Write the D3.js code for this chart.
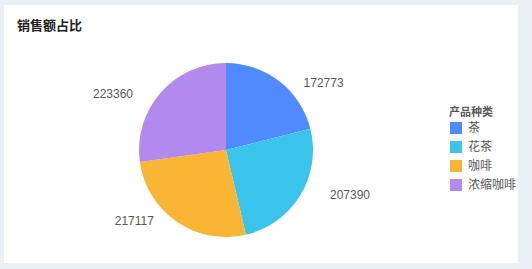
<!DOCTYPE html>
<html>
<head>
<meta charset="utf-8">
<script src="https://cdn.jsdelivr.net/npm/d3@7"></script>
<style>
  html, body { margin: 0; padding: 0; background: #eaf0f4; }
  svg { display: block; font-family: "Liberation Sans", "Noto Sans CJK SC", sans-serif; }
</style>
</head>
<body>
<div id="chart"></div>
<script>
const categories = ["茶", "花茶", "咖啡", "浓缩咖啡"];
const sales = [172773, 207390, 217117, 223360];
const colors = ["#4f8bff", "#3ac4ec", "#f9b533", "#b28aed"];
const chartTitle = "销售额占比";
const legendTitle = "产品种类";

const width = 532;
const height = 269;

const svg = d3.select("#chart").append("svg")
    .attr("width", width)
    .attr("height", height);

// white card
svg.append("rect")
    .attr("x", 4).attr("y", 5)
    .attr("width", 514).attr("height", 258)
    .attr("fill", "#fff");

svg.append("text")
    .attr("x", 17).attr("y", 30)
    .attr("font-size", 13)
    .attr("font-weight", "bold")
    .attr("fill", "#1f1f1f")
    .text(chartTitle);

const cx = 226, cy = 150, radius = 87;
const data = categories.map((c, i) => ({ name: c, value: sales[i] }));

const color = d3.scaleOrdinal().domain(categories).range(colors);
const pie = d3.pie().value(d => d.value).sort(null);
const arc = d3.arc().innerRadius(0).outerRadius(radius);
const arcs = pie(data);

const g = svg.append("g").attr("transform", `translate(${cx},${cy})`);

g.selectAll("path")
    .data(arcs)
    .join("path")
    .attr("d", arc)
    .attr("fill", d => color(d.data.name));

// labels: outside, pulled a bit toward the horizontal middle
const labelR = 110;
g.selectAll("text.lbl")
    .data(arcs)
    .join("text")
    .attr("class", "lbl")
    .each(function(d) {
        const a = (d.startAngle + d.endAngle) / 2;
        const side = Math.sin(a) >= 0 ? 1 : -1;
        const x = labelR * Math.sin(a) + side * 10;
        const y = -labelR * Math.cos(a) * 0.78;
        d3.select(this)
            .attr("x", x).attr("y", y)
            .attr("dy", "0.35em")
            .attr("text-anchor", side > 0 ? "start" : "end");
    })
    .attr("font-size", 12)
    .attr("fill", "#595959")
    .text(d => d.data.value);

// legend
const legend = svg.append("g").attr("transform", "translate(449,112)");
legend.append("text")
    .attr("x", 0).attr("y", 0)
    .attr("dy", "0.35em")
    .attr("font-size", 11)
    .attr("font-weight", "bold")
    .attr("fill", "#595959")
    .text(legendTitle);

const rowY = d3.scalePoint().domain(categories).range([16, 73]);
const item = legend.selectAll("g.item")
    .data(categories)
    .join("g")
    .attr("class", "item")
    .attr("transform", d => `translate(0,${rowY(d)})`);

item.append("rect")
    .attr("x", 1).attr("y", -6)
    .attr("width", 12).attr("height", 12)
    .attr("fill", d => color(d));

item.append("text")
    .attr("x", 19).attr("y", 0)
    .attr("dy", "0.35em")
    .attr("font-size", 12)
    .attr("fill", "#595959")
    .text(d => d);
</script>
</body>
</html>
